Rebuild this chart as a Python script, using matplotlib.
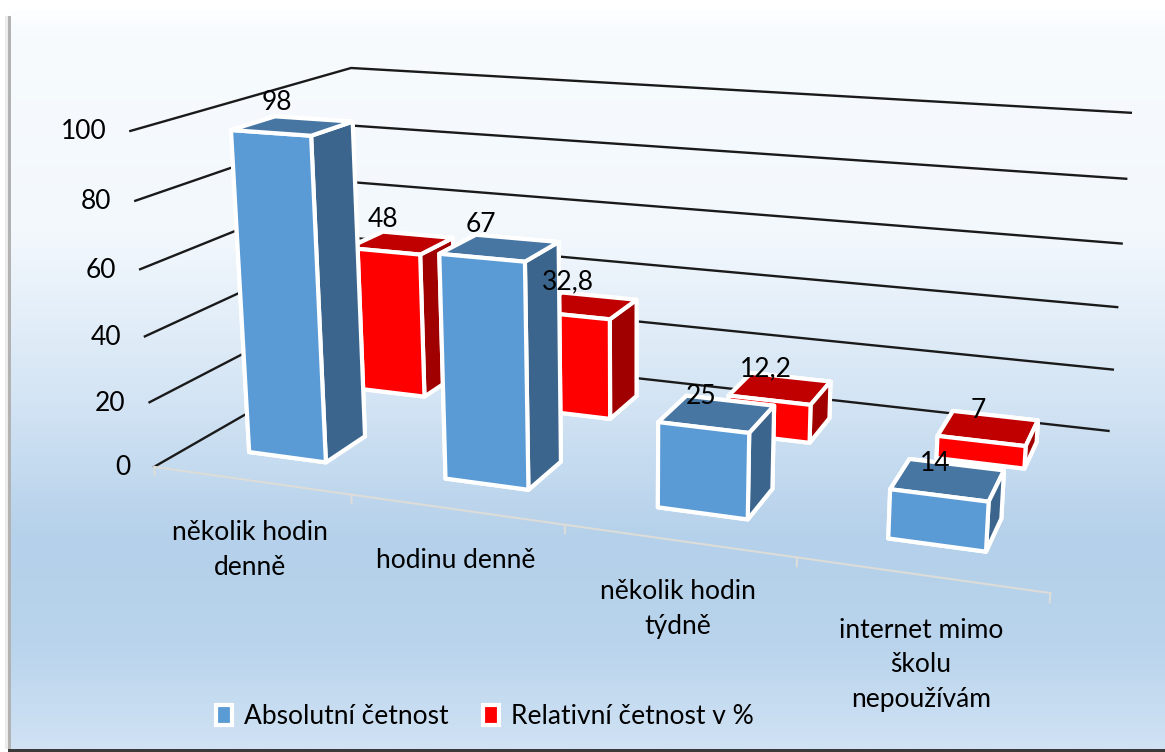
import numpy as np
import matplotlib
matplotlib.use('Agg')
import matplotlib.pyplot as plt
from matplotlib.colors import LinearSegmentedColormap
from matplotlib.patches import Rectangle
from mpl_toolkits.mplot3d import proj3d

categories = ['několik hodin\ndenně', 'hodinu denně', 'několik hodin\ntýdně',
              'internet mimo\nškolu\nnepoužívám']
absolutni = [98, 67, 25, 14]
relativni = [48, 32.8, 12.2, 7]
abs_labels = ['98', '67', '25', '14']
rel_labels = ['48', '32,8', '12,2', '7']
value_ticks = [0, 20, 40, 60, 80, 100]
series_names = ['Absolutní četnost', 'Relativní četnost v %']

# layout, in pixels of the 1165x752 picture
W, H = 1165, 752
cat_label_pos = [(250, 550), (456, 560), (678, 609), (921, 665)]
abs_label_off = [(-37, 16), (-36, 14), (-29, 4), (-21, 1)]
rel_label_off = [(-35, 15), (-31, 14), (-25, 8), (-17, 5)]
FONT = 'Lato'
FS = 19

# camera, fitted to the corners of the walls
ELEV, AZIM, ROLL, FOCAL = 15.09, -70.30, -0.11, 0.343
BOX = (1, 0.494, 0.384)
CX, CY, S = 645.18, 288.83, 5452.6

plt.rcParams['font.family'] = [FONT, 'DejaVu Sans']
fig = plt.figure(figsize=(W/100, H/100), dpi=100, facecolor='white')

# background with the gradient and the dark frame
bg = fig.add_axes([0, 0, 1, 1], zorder=0)
bg.set_xlim(0, W)
bg.set_ylim(H, 0)
bg.axis('off')
stops = [(0, '#fdfeff'), (0.03, '#f7fbfe'), (0.3, '#f3f8fd'), (0.53, '#d3e4f4'),
         (0.72, '#b4d0ea'), (0.86, '#b9d4ec'), (1, '#d0e2f4')]
cmap = LinearSegmentedColormap.from_list('bg', stops)
bg.imshow(np.linspace(0, 1, 256)[:, None], cmap=cmap, aspect='auto', extent=(11, W, 749, 10))
bg.set_xlim(0, W)
bg.set_ylim(H, 0)
bg.add_patch(Rectangle((5, 16), 3, 733, color='#ececec', lw=0))
bg.add_patch(Rectangle((8, 16), 3, 733, color='#b2b2b2', lw=0))
bg.add_patch(Rectangle((8, 749), W, 3, color='#3a3a3a', lw=0))

side = S*0.185
ax = fig.add_axes([(CX - S*0.095)/W, (H - CY - S*0.095)/H, side/W, side/H],
                  projection='3d', zorder=1, computed_zorder=False)
ax.patch.set_alpha(0)
ax.set_axis_off()
ax.set_xlim(0, 4, view_margin=0)
ax.set_ylim(0, 1, view_margin=0)
ax.set_zlim(0, 100, view_margin=0)
ax.view_init(elev=ELEV, azim=AZIM, roll=ROLL)
ax.set_box_aspect(BOX)
ax.set_proj_type('persp', focal_length=FOCAL)

# walls
for v in value_ticks:
    ax.plot([0, 0, 4], [0, 1, 1], [v, v, v], color='#1a1a1a', lw=1.7, zorder=1, clip_on=False)

# floor edge with ticks
ax.plot([0, 4], [0, 0], [0, 0], color='#dcdcd8', lw=1.5, zorder=1)
for i in range(len(categories) + 1):
    ax.plot([i, i], [0, 0], [0, -2.5], color='#dcdcd8', lw=1.5, zorder=1)

BLUE = ['#5b9bd5', '#4776a3', '#3b658c']
RED = ['#ff0000', '#c00000', '#a00000']

def bar(x, y0, y1, h, cols, z):
    # face order of bar3d: bottom, top, front, back, left, right
    faces = [cols[2], cols[1], cols[0], cols[2], cols[2], cols[2]]
    ax.bar3d(x + 0.3, y0, 0, 0.4, y1 - y0, h, color=faces, edgecolor='white',
             linewidth=3, shade=False, zorder=z)

z = 2
for i in range(len(categories)):
    bar(i, 0.67, 0.86, relativni[i], RED, z)
    bar(i, 0.16, 0.35, absolutni[i], BLUE, z + 1)
    z += 2

M = ax.get_proj()

def label3d(x, y, v, txt, off):
    x2, y2, _ = proj3d.proj_transform(x, y, v, M)
    ax.annotate(txt, (x2, y2), xycoords='data', xytext=off, textcoords='offset pixels',
                ha='center', va='center', fontsize=FS, color='black', zorder=50,
                annotation_clip=False)

for i in range(len(categories)):
    label3d(i + 0.5, 0.35, absolutni[i], abs_labels[i], abs_label_off[i])
    label3d(i + 0.5, 0.86, relativni[i], rel_labels[i], rel_label_off[i])

for v in value_ticks:
    x2, y2, _ = proj3d.proj_transform(0, 0, v, M)
    ax.annotate(str(v), (x2, y2), xycoords='data', xytext=(-24, -1), textcoords='offset pixels',
                ha='right', va='center', fontsize=FS, color='black', zorder=50,
                annotation_clip=False)

for name, (px, py) in zip(categories, cat_label_pos):
    fig.text(px/W, 1 - py/H, name, ha='center', va='center', fontsize=FS,
             linespacing=1.5, color='black', zorder=5)

handles = [Rectangle((0, 0), 1, 1, facecolor=BLUE[0], edgecolor='white', lw=3),
           Rectangle((0, 0), 1, 1, facecolor=RED[0], edgecolor='white', lw=3)]
fig.legend(handles, series_names, loc='center', bbox_to_anchor=(485/W, 1 - 717/H), ncols=2,
           frameon=False, fontsize=FS, handlelength=0.6, handleheight=0.8,
           handletextpad=0.45, columnspacing=1.33)

fig.savefig('out.png', dpi=100)
